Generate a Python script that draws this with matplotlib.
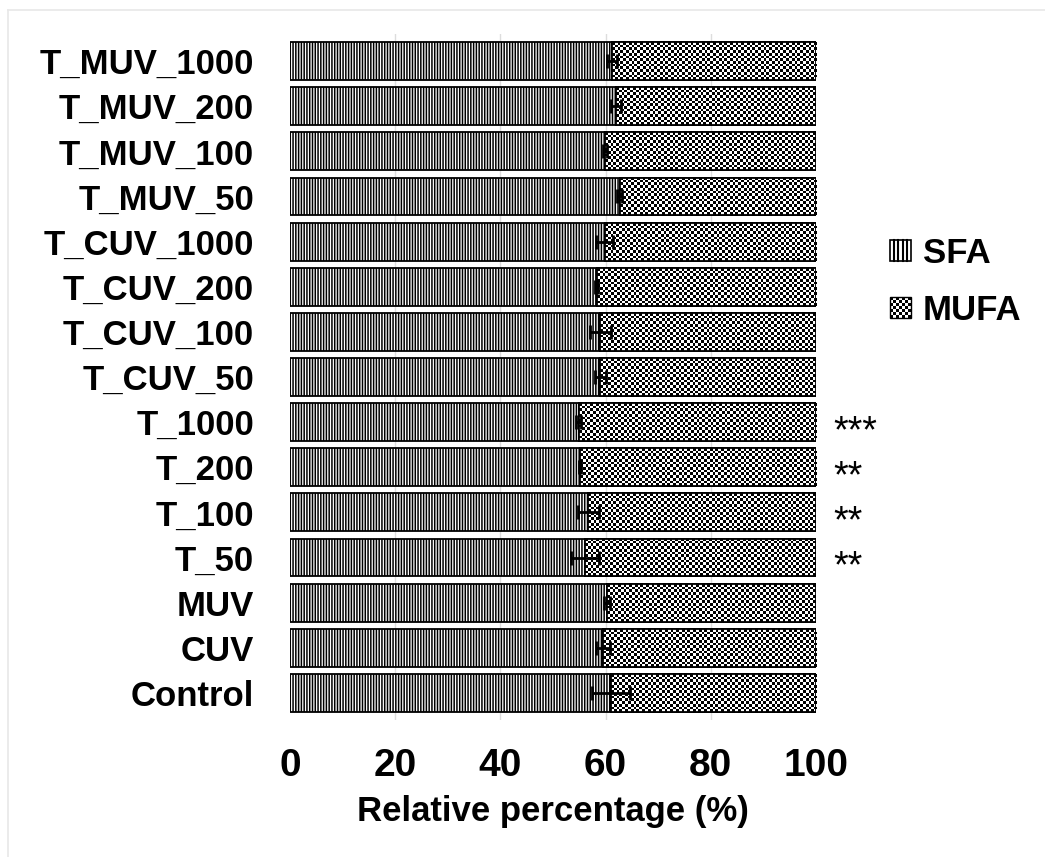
import numpy as np
import matplotlib
matplotlib.use("Agg")
import matplotlib.pyplot as plt
from matplotlib.patches import Rectangle
from matplotlib.legend_handler import HandlerBase
from matplotlib.lines import Line2D

plt.rcParams['font.family'] = ['Liberation Sans', 'DejaVu Sans']
plt.rcParams['hatch.linewidth'] = 1.1

# ---------------- data ----------------
categories = ["T_MUV_1000", "T_MUV_200", "T_MUV_100", "T_MUV_50",
              "T_CUV_1000", "T_CUV_200", "T_CUV_100", "T_CUV_50",
              "T_1000", "T_200", "T_100", "T_50",
              "MUV", "CUV", "Control"]
sfa = [61.2, 62.0, 59.9, 62.7, 59.8, 58.3, 59.0, 59.0,
       54.9, 55.1, 56.7, 56.1, 60.3, 59.5, 61.0]
sfa_err = [1.0, 1.0, 0.4, 0.5, 1.6, 0.3, 2.0, 1.0,
           0.5, 0.2, 2.0, 2.6, 0.6, 1.4, 3.6]
mufa = [100 - v for v in sfa]
significance = ["", "", "", "", "", "", "", "",
                "***", "**", "**", "**", "", "", ""]
xticks = [0, 20, 40, 60, 80, 100]
xlabel = "Relative percentage (%)"
series_names = ["SFA", "MUFA"]

W, H = 1045, 857
fig = plt.figure(figsize=(W / 100, H / 100), dpi=100)
ax = fig.add_axes([290 / W, 1 - 720 / H, 526 / W, 686 / H])

n = len(categories)
ypos = np.arange(n)
bar_h = 0.84

ax.set_xlim(0, 100)
ax.set_ylim(n - 1 + 0.6, -0.6)

# grid
for t in xticks[1:-1]:
    ax.axvline(t, color='#dddddd', lw=1.0, zorder=0)

# SFA bars
ax.barh(ypos, sfa, height=bar_h, color='white', edgecolor='black',
        hatch='||||||', linewidth=1.3, zorder=2)
# MUFA bars (checkerboard drawn as clipped image)
mbars = ax.barh(ypos, mufa, left=sfa, height=bar_h, color='white',
                edgecolor='black', linewidth=1.3, zorder=2)

px_x = 526 / 100.0   # pixels per data unit x
px_y = 686 / (n + 0.2)
sq = 2.8
for rect, left, w, y in zip(mbars.patches, sfa, mufa, ypos):
    nx = max(1, int(round(w * px_x / sq)))
    ny = max(1, int(round(bar_h * px_y / sq)))
    ii, jj = np.indices((ny, nx))
    checker = ((ii + jj) % 2).astype(float)
    im = ax.imshow(checker, cmap='gray', vmin=0, vmax=1,
                   extent=(left, left + w, y + bar_h / 2, y - bar_h / 2),
                   interpolation='nearest', aspect='auto', zorder=2.5)
    im.set_clip_path(rect)
    ax.add_patch(Rectangle((left, y - bar_h / 2), w, bar_h, fill=False,
                           edgecolor='black', lw=1.3, zorder=3))
ax.set_aspect('auto')
ax.set_xlim(0, 100)
ax.set_ylim(n - 1 + 0.6, -0.6)

# error bars
ax.errorbar(sfa, ypos, xerr=sfa_err, fmt='none', ecolor='black',
            elinewidth=2, capsize=5, capthick=2, zorder=4)

# significance stars
for y, s in zip(ypos, significance):
    if s:
        ax.text(103.3, y + 0.22, s, ha='left', va='center', fontsize=27,
                clip_on=False)

for sp in ax.spines.values():
    sp.set_visible(False)
ax.tick_params(axis='both', length=0)
ax.set_yticks(ypos)
ax.set_yticklabels(categories, fontsize=25, fontweight='bold')
ax.tick_params(axis='y', pad=26)
ax.set_xticks(xticks)
ax.set_xticklabels([str(t) for t in xticks], fontsize=28, fontweight='bold')
ax.tick_params(axis='x', pad=20)
ax.set_xlabel(xlabel, fontsize=25, fontweight='bold', labelpad=8)


# legend handlers
class HandlerChecker(HandlerBase):
    def create_artists(self, legend, orig_handle, xdescent, ydescent,
                       width, height, fontsize, trans):
        arts = []
        k = 7
        s = min(width, height)
        x0 = -xdescent
        y0 = -ydescent + (height - s) / 2
        d = s / k
        for i in range(k):
            for j in range(k):
                if (i + j) % 2 == 0:
                    r = Rectangle((x0 + j * d, y0 + i * d), d, d,
                                  facecolor='black', edgecolor='none',
                                  transform=trans)
                    arts.append(r)
        arts.append(Rectangle((x0, y0), s, s, fill=False, edgecolor='black',
                              lw=1.0, transform=trans))
        return arts


class HandlerVLines(HandlerBase):
    def create_artists(self, legend, orig_handle, xdescent, ydescent,
                       width, height, fontsize, trans):
        s = min(width, height)
        x0 = -xdescent
        y0 = -ydescent + (height - s) / 2
        arts = [Rectangle((x0, y0), s, s, facecolor='white', edgecolor='black',
                          lw=1.2, transform=trans)]
        k = 5
        for j in range(1, k):
            xx = x0 + j * s / k
            arts.append(Line2D([xx, xx], [y0, y0 + s], color='black', lw=1.5,
                               transform=trans))
        return arts


h1 = Rectangle((0, 0), 1, 1)
h2 = Rectangle((0, 0), 1, 1)
leg = fig.legend([h1, h2], series_names,
                 handler_map={h1: HandlerVLines(), h2: HandlerChecker()},
                 loc='center left', bbox_to_anchor=(890 / W, 1 - 282 / H),
                 frameon=False, prop={'size': 25, 'weight': 'bold'},
                 handlelength=0.6, handleheight=0.6, handletextpad=0.35,
                 labelspacing=0.7, borderpad=0, borderaxespad=0)

# light frame on the figure (left and top)
fig.add_artist(Line2D([8 / W, 8 / W], [0, 1 - 10 / H], color='#e8e8e8',
                      lw=1.2, transform=fig.transFigure))
fig.add_artist(Line2D([8 / W, 1], [1 - 10 / H, 1 - 10 / H], color='#e8e8e8',
                      lw=1.2, transform=fig.transFigure))

fig.savefig("out.png", dpi=100)
